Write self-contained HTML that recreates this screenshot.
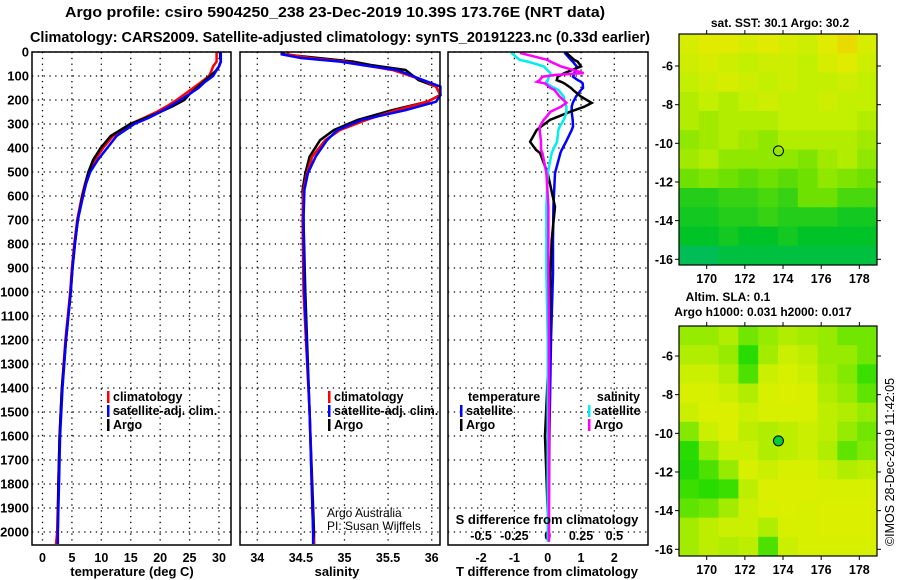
<!DOCTYPE html>
<html><head><meta charset="utf-8"><style>
body{margin:0;background:#fff}
svg{display:block;font-family:"Liberation Sans",Arial,sans-serif}
.t{font-size:12.5px;font-weight:bold}
.n{font-size:12px;font-weight:normal}
</style></head><body>
<svg id="c" width="900" height="580" xmlns="http://www.w3.org/2000/svg">
<text x="65" y="17" textLength="540" lengthAdjust="spacingAndGlyphs" font-size="14.5" font-weight="bold">Argo profile: csiro 5904250_238 23-Dec-2019 10.39S 173.76E (NRT data)</text>
<text x="30" y="42" textLength="620" lengthAdjust="spacingAndGlyphs" font-size="14.5" font-weight="bold">Climatology: CARS2009. Satellite-adjusted climatology: synTS_20191223.nc (0.33d earlier)</text>
<g id="g"></g>
<text transform="translate(894,462) rotate(-90)" text-anchor="middle" font-size="12.5">©IMOS 28-Dec-2019 11:42:05</text>
</svg>
<script>
// depth grid for all profiles (m)
const tDepth=[0,20,40,60,80,100,125,150,175,200,225,250,275,300,350,400,450,500,550,600,700,800,900,1000,1200,1400,1600,1800,2000,2050];
const tClim=[29.6,29.6,29.6,29.0,28.7,28.3,27.0,25.6,24.2,22.8,21.2,19.4,17.2,14.9,12.0,10.3,8.9,7.8,7.2,6.7,5.9,5.4,5.0,4.7,3.9,3.3,2.9,2.7,2.5,2.3];
const tSat=[30.3,30.3,30.3,30.0,29.5,29.0,27.6,26.5,25.0,23.4,21.8,20.0,18.0,15.6,12.6,11.0,9.4,8.1,7.4,6.9,6.0,5.5,5.1,4.8,4.0,3.4,3.0,2.8,2.6,2.6];
const tArgo=[30.2,30.2,30.3,30.0,29.4,28.5,27.3,26.2,25.0,24.1,22.2,20.0,17.5,14.9,11.6,9.9,8.6,7.8,7.3,6.8,6.0,5.5,5.1,4.8,4.0,3.3,2.9,2.7,2.6,2.6];
const sDepth=[0,10,25,40,54,75,117,144,179,207,242,283,325,367,436,505,575,700,1000,1500,2000,2050];
const sClim=[34.35,34.35,34.6,35.0,35.2,35.55,35.9,36.05,36.1,35.95,35.6,35.25,34.95,34.78,34.63,34.57,34.53,34.52,34.53,34.6,34.64,34.65];
const sSat=[34.28,34.28,34.5,34.95,35.2,35.6,35.9,36.1,36.1,36.05,35.7,35.2,34.92,34.8,34.67,34.58,34.54,34.53,34.54,34.6,34.64,34.64];
const sArgo=[34.3,34.3,34.7,35.1,35.3,35.7,35.85,36.05,36.1,35.95,35.55,35.15,34.88,34.72,34.6,34.55,34.52,34.53,34.55,34.6,34.65,34.65];
const dDepth=[0,5,33,40,60,88,96,103,117,124,131,150,158,186,212,228,249,270,283,311,325,374,408,421,505,645,783,922,1200,1600,2000,2040];
const dTArgo=[0.57,0.57,0.8,0.9,1.0,0.5,0.4,0.3,0.27,0.4,0.5,0.7,0.76,1.0,1.32,1.1,0.67,0.3,0.07,-0.2,-0.33,-0.53,-0.35,-0.23,0.0,0.22,0.12,0.08,0.05,-0.08,0.02,0.02];
const dTSat=[0.52,0.52,0.7,0.75,0.87,0.8,0.78,0.76,0.9,1.0,1.05,1.06,1.0,0.85,0.75,0.72,0.72,0.74,0.75,0.76,0.72,0.55,0.42,0.38,0.22,0.17,0.16,0.16,0.1,0.05,0.03,0.03];
const dSSat=[-0.27,-0.27,-0.21,-0.15,-0.03,0.02,0.02,0.01,0.0,-0.01,-0.01,0.05,0.08,0.12,0.13,0.14,0.14,0.13,0.12,0.09,0.08,0.07,0.04,0.03,0.0,-0.01,-0.01,-0.01,0.0,0.0,0.0,0.0];
const dSArgo=[-0.2,-0.2,0.0,0.02,0.1,0.27,0.05,-0.04,-0.06,-0.08,-0.02,0.02,0.05,0.09,0.14,0.1,0.02,-0.01,-0.03,-0.06,-0.06,-0.05,-0.05,-0.04,-0.01,0.005,0.005,0.005,0.01,0.01,0.01,0.01];
const depthTicks=[0,100,200,300,400,500,600,700,800,900,1000,1100,1200,1300,1400,1500,1600,1700,1800,1900,2000];
const tTicks=[0,5,10,15,20,25,30];
const sTicks=[34,34.5,35,35.5,36];
const sTickLabels=["34","34.5","35","35.5","36"];
const dTTicks=[-2,-1,0,1,2];
const dSTicks=[-0.5,-0.25,0,0.25,0.5];
const dSTickLabels=["-0.5","-0.25","0","0.25","0.5"];
const lonTicks=[170,172,174,176,178];
const latTicks=[-6,-8,-10,-12,-14,-16];
const argoLon=173.76, argoLat=-10.39;
const sstGrid=[
[.85,.9,.9,.85,.9,.85,.8,.9,.95,.85],
[.8,.85,.8,.75,.8,.8,.75,.85,.9,.8],
[.75,.8,.85,.8,.75,.8,.75,.75,.8,.75],
[.7,.75,.7,.75,.8,.75,.75,.8,.75,.75],
[.7,.65,.7,.7,.7,.75,.75,.75,.75,.7],
[.6,.65,.7,.65,.6,.7,.7,.7,.7,.65],
[.65,.7,.6,.6,.6,.6,.55,.65,.7,.6],
[.5,.55,.5,.45,.5,.45,.5,.6,.55,.5],
[.3,.3,.35,.35,.4,.35,.5,.5,.4,.4],
[.25,.25,.3,.3,.35,.3,.3,.3,.25,.25],
[.2,.2,.25,.2,.2,.25,.2,.2,.2,.2],
[.1,.1,.15,.15,.15,.15,.15,.15,.15,.15]];
const slaGrid=[
[.6,.6,.7,.5,.6,.7,.65,.6,.5,.5],
[.7,.7,.6,.3,.65,.8,.75,.6,.6,.5],
[.8,.8,.7,.4,.8,.85,.8,.65,.55,.35],
[.85,.85,.8,.7,.85,.9,.85,.7,.6,.45],
[.8,.9,.9,.8,.85,.85,.85,.75,.7,.6],
[.55,.8,.9,.75,.7,.75,.8,.75,.6,.5],
[.3,.6,.8,.8,.7,.75,.8,.7,.45,.55],
[.25,.4,.6,.85,.8,.85,.85,.8,.7,.75],
[.35,.3,.35,.75,.9,.9,.9,.85,.85,.85],
[.45,.5,.65,.8,.85,.9,.85,.9,.9,.9],
[.65,.75,.8,.8,.7,.85,.85,.9,.9,.9],
[.65,.75,.7,.75,.4,.8,.85,.85,.85,.85]];

const NS='http://www.w3.org/2000/svg';
const G=document.getElementById('g');
function mk(tag,attrs,parent){const e=document.createElementNS(NS,tag);for(const k in attrs)e.setAttribute(k,attrs[k]);(parent||G).appendChild(e);return e;}
function txt(x,y,s,anchor,cls,parent){const e=mk('text',{x:x,y:y,'text-anchor':anchor||'middle','class':cls||'t'},parent);e.textContent=s;return e;}
const yTop=52, pxPerM=0.24;
const yD=d=>yTop+d*pxPerM;
const xT=v=>42.5+v*5.883;
const xS=v=>257.3+(v-34)*87.2;
const xDT=v=>547.7+v*33.3;
const xDS=v=>547.7+v*133.3;
const PB=545;
const DASH={stroke:'#000','stroke-width':1.3,'stroke-dasharray':'1.3,4.5'};
const panels=[{x0:32,x1:231,name:'temperature-panel'},{x0:240,x1:440,name:'salinity-panel'},{x0:448,x1:648,name:'difference-panel'}];

function line(xs,ds,fx,color,name,w){
  const pts=xs.map((v,i)=>fx(v).toFixed(1)+','+yD(ds[i]).toFixed(1)).join(' ');
  const p=mk('polyline',{points:pts,fill:'none',stroke:color,'stroke-width':w||2.5,'stroke-linejoin':'miter'});
  
  
}
function gl(x1,x2,y1,y2,name){
  const l=mk('line',Object.assign({x1:x1,x2:x2,y1:y1,y2:y2},DASH));
  
  
}

panels.forEach(P=>{
  depthTicks.forEach(d=>gl(P.x0,P.x1,yD(d),yD(d),'depth-gridline'));
});
tTicks.forEach(v=>{gl(xT(v),xT(v),yTop,PB,'temperature-gridline');
const t=txt(xT(v),562,String(v));

});
sTicks.forEach((v,i)=>{gl(xS(v),xS(v),yTop,PB,'salinity-gridline');
const t=txt(xS(v),562,sTickLabels[i]);

});
dTTicks.forEach(v=>{gl(xDT(v),xDT(v),yTop,PB,'t-diff-gridline');
const t=txt(xDT(v),562,String(v));

});
dSTicks.forEach((v,i)=>{const t=txt(xDS(v),540,dSTickLabels[i]);

});
depthTicks.forEach(d=>{const t=txt(29,yD(d)+4.5,String(d),'end');
t.style.fontSize='13px';

});

line(tClim,tDepth,xT,'#f00','temperature-climatology-line');
line(tArgo,tDepth,xT,'#000','temperature-argo-line');
line(tSat,tDepth,xT,'#00f','temperature-satellite-line');
line(sArgo,sDepth,xS,'#000','salinity-argo-line');
line(sClim,sDepth,xS,'#f00','salinity-climatology-line');
line(sSat,sDepth,xS,'#00f','salinity-satellite-line');
line(dTSat,dDepth,xDT,'#00f','t-diff-satellite-line');
line(dTArgo,dDepth,xDT,'#000','t-diff-argo-line');
line(dSSat,dDepth,xDS,'#0ee','s-diff-satellite-line');
line(dSArgo,dDepth,xDS,'#f0f','s-diff-argo-line');

panels.forEach(P=>{const r=mk('rect',{x:P.x0,y:yTop,width:P.x1-P.x0,height:PB-yTop,fill:'none',stroke:'#000','stroke-width':1.5});

});

[[132,576,'temperature (deg C)','temperature-axis-title'],[337,576,'salinity','salinity-axis-title'],[547,576,'T difference from climatology','t-diff-axis-title'],[547,524,'S difference from climatology','s-diff-axis-title']].forEach(a=>{
const t=txt(a[0],a[1],a[2]);t.style.fontSize='13px';

});
const n1=txt(327,517,'Argo Australia','start','n');


const n2=txt(327,530,'PI: Susan Wijffels','start','n');



function leg(x,y,color,label,name){
  const r=mk('rect',{x:x,y:y-10,width:2.5,height:12,fill:color});
  
  
  const t=txt(x+6,y,label,'start');
  
  
}
[['#f00','climatology'],['#00f','satellite-adj. clim.'],['#000','Argo']].forEach((e,i)=>{leg(107,401+i*14,e[0],e[1],'legend-entry-temp-'+i);leg(328,401+i*14,e[0],e[1],'legend-entry-sal-'+i);});
const lt=txt(468,401,'temperature','start');


leg(460,415,'#00f','satellite','legend-t-satellite');
leg(460,429,'#000','Argo','legend-t-argo');
const ls=txt(640,401,'salinity','end');


leg(588,415,'#0ee','satellite','legend-s-satellite');
leg(588,429,'#f0f','Argo','legend-s-argo');

function cm(v,type){
  let stops=type==='sst'?[[0,[0,185,130]],[0.2,[0,195,40]],[0.5,[110,225,0]],[0.75,[195,240,0]],[0.9,[225,235,0]],[1,[240,200,0]]]
                        :[[0,[0,200,40]],[0.3,[40,220,0]],[0.6,[150,235,0]],[0.85,[215,240,0]],[1,[225,240,0]]];
  for(let i=1;i<stops.length;i++){if(v<=stops[i][0]){const a=stops[i-1],b=stops[i],f=(v-a[0])/(b[0]-a[0]);
    return 'rgb('+a[1].map((c,k)=>Math.round(c+(b[1][k]-c)*f)).join(',')+')';}}
  return 'rgb('+stops[stops.length-1][1].join(',')+')';
}
function map(top,bottom,grid,type,name,lat0){
  const X0=679,X1=877;
  const xL=lon=>706.7+(lon-170)*19.08;
  const yL=lat=>lat0+(-6-lat)*19.33;
  const g=mk('g',{});
  
  
  const rows=grid.length,cols=grid[0].length,cw=(X1-X0)/cols,ch=(bottom-top)/rows;
  grid.forEach((row,r)=>row.forEach((v,c)=>{
    const cell=mk('rect',{x:X0+c*cw,y:top+r*ch,width:cw+0.5,height:ch+0.5,fill:cm(v,type)},g);
    
    
  }));
  const fr=mk('rect',{x:X0,y:top,width:X1-X0,height:bottom-top,fill:'none',stroke:'#000','stroke-width':1.2},g);
  
  
  lonTicks.forEach(l=>{mk('line',{x1:xL(l),x2:xL(l),y1:top-4,y2:top,stroke:'#000'},g);mk('line',{x1:xL(l),x2:xL(l),y1:bottom,y2:bottom+4,stroke:'#000'},g);
    const t=txt(xL(l),bottom+18,String(l),'middle','t',g);
    
    });
  latTicks.forEach(l=>{mk('line',{x1:X0-4,x2:X0,y1:yL(l),y2:yL(l),stroke:'#000'},g);mk('line',{x1:X1,x2:X1+4,y1:yL(l),y2:yL(l),stroke:'#000'},g);
    const t=txt(X0-6,yL(l)+4.5,String(l),'end','t',g);
    
    });
  const m=mk('circle',{cx:xL(argoLon),cy:yL(argoLat),r:5,fill:type==='sst'?'none':'#0c3',stroke:'#000','stroke-width':1},g);
  
  
}
map(34,265,sstGrid,'sst','sst-map',66);
map(326,556,slaGrid,'sla','sla-map',356);
[[780,27,'sat. SST: 30.1 Argo: 30.2','sst-map-title'],[728,301,'Altim. SLA: 0.1','sla-map-title-1'],[763,316,'Argo h1000: 0.031 h2000: 0.017','sla-map-title-2']].forEach(a=>{
  const t=txt(a[0],a[1],a[2]);t.style.fontSize='12px';
  
  });
</script>
</body></html>
